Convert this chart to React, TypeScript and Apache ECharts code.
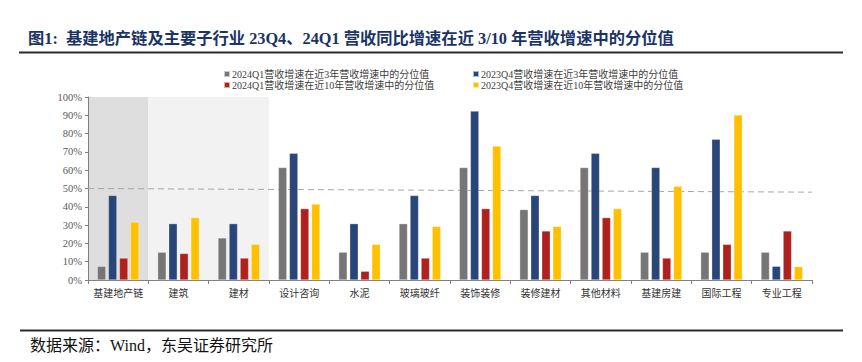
import React, { useEffect, useRef } from "react";
import * as echarts from "echarts";

const categories = ["基建地产链", "建筑", "建材", "设计咨询", "水泥", "玻璃玻纤", "装饰装修", "装修建材", "其他材料", "基建房建", "国际工程", "专业工程"];
const seriesNames = [
  "2024Q1营收增速在近3年营收增速中的分位值",
  "2023Q4营收增速在近3年营收增速中的分位值",
  "2024Q1营收增速在近10年营收增速中的分位值",
  "2023Q4营收增速在近10年营收增速中的分位值",
];
const q1_3y = [7.5, 15.2, 23.0, 61.5, 15.2, 30.8, 61.5, 38.5, 61.5, 15.2, 15.2, 15.2];
const q4_3y = [46.2, 30.8, 30.8, 69.2, 30.8, 46.2, 92.3, 46.2, 69.2, 61.5, 76.9, 7.5];
const q1_10y = [12.0, 14.5, 12.0, 39.0, 4.8, 12.0, 39.0, 26.8, 34.1, 12.0, 19.5, 26.8];
const q4_10y = [31.7, 34.1, 19.5, 41.5, 19.5, 29.3, 73.2, 29.3, 39.0, 51.2, 90.2, 7.3];
const refLine = [[0, 50], [12, 48]];
const colors = ["#767676", "#284679", "#AE211D", "#FFC000"];

const serif = "'Liberation Serif', 'Noto Sans CJK SC', serif";

export default function App() {
  const ref = useRef<HTMLDivElement>(null);
  useEffect(() => {
    if (!ref.current) return;
    const chart = echarts.init(ref.current, null, { renderer: "svg" });
    const values = [q1_3y, q4_3y, q1_10y, q4_10y];
    const legendText = { fontSize: 10, color: "#404040", fontFamily: serif, padding: [0, 0, 0, -3] };
    chart.setOption({
      animation: false,
      backgroundColor: "#ffffff",
      legend: [
        {
          data: [seriesNames[0], seriesNames[2]],
          orient: "vertical",
          left: 218,
          top: 64,
          itemWidth: 6,
          itemHeight: 6,
          itemGap: 1,
          icon: "rect",
          textStyle: legendText,
        },
        {
          data: [seriesNames[1], seriesNames[3]],
          orient: "vertical",
          left: 467,
          top: 64,
          itemWidth: 6,
          itemHeight: 6,
          itemGap: 1,
          icon: "rect",
          textStyle: legendText,
        },
      ],
      grid: { left: 88, right: 50, top: 97, bottom: 82, containLabel: false },
      xAxis: [
        {
          type: "category",
          data: categories,
          axisLine: { lineStyle: { color: "#808080", width: 1 } },
          axisTick: { show: true, length: 4, lineStyle: { color: "#808080" } },
          axisLabel: { interval: 0, fontSize: 10, color: "#333333", fontFamily: "'Noto Sans CJK SC', sans-serif", margin: 7 },
        },
        {
          type: "value",
          min: 0,
          max: 12,
          show: false,
        },
      ],
      yAxis: {
        type: "value",
        min: 0,
        max: 100,
        interval: 10,
        axisLine: { show: true, lineStyle: { color: "#808080" } },
        axisTick: { show: true, length: 3, lineStyle: { color: "#808080" } },
        splitLine: { show: false },
        axisLabel: { formatter: "{value}%", fontSize: 10.5, color: "#595959", fontFamily: serif, margin: 6 },
      },
      series: [
        {
          type: "line",
          xAxisIndex: 1,
          data: refLine,
          showSymbol: false,
          symbol: "none",
          silent: true,
          z: 1,
          lineStyle: { color: "#A6A6A6", width: 1, type: [6, 4] },
          markArea: {
            silent: true,
            z: 0,
            data: [
              [{ xAxis: 0, itemStyle: { color: "#DEDEDE" } }, { xAxis: 1 }],
              [{ xAxis: 1, itemStyle: { color: "#F2F2F2" } }, { xAxis: 3 }],
            ],
          },
        },
        ...seriesNames.map((name, i) => ({
          name,
          type: "bar",
          data: values[i],
          barWidth: 8.5,
          barGap: "30%",
          z: 3,
          itemStyle: { color: colors[i], borderColor: "rgba(255,255,255,0.6)", borderWidth: 0.5 },
        })),
      ],
      color: colors,
      graphic: [
        {
          type: "text",
          x: 28,
          y: 38,
          style: {
            text: "图1:  基建地产链及主要子行业 23Q4、24Q1 营收同比增速在近 3/10 年营收增速中的分位值",
            fontSize: 16.3,
            fontWeight: "bold",
            fill: "#1B3466",
            fontFamily: serif,
            verticalAlign: "middle",
          },
        },
        { type: "line", shape: { x1: 19, y1: 52.5, x2: 843, y2: 52.5 }, style: { stroke: "#2b2b2b", lineWidth: 2 } },
        { type: "line", shape: { x1: 20, y1: 330.5, x2: 843, y2: 330.5 }, style: { stroke: "#2b2b2b", lineWidth: 2 } },
        {
          type: "text",
          x: 30,
          y: 345,
          style: { text: "数据来源：Wind，东吴证券研究所", fontSize: 16, fill: "#111111", fontFamily: serif, verticalAlign: "middle" },
        },
      ],
    });
    return () => chart.dispose();
  }, []);
  return <div ref={ref} style={{ width: 862, height: 362, position: "absolute", left: 0, top: 0 }} />;
}
